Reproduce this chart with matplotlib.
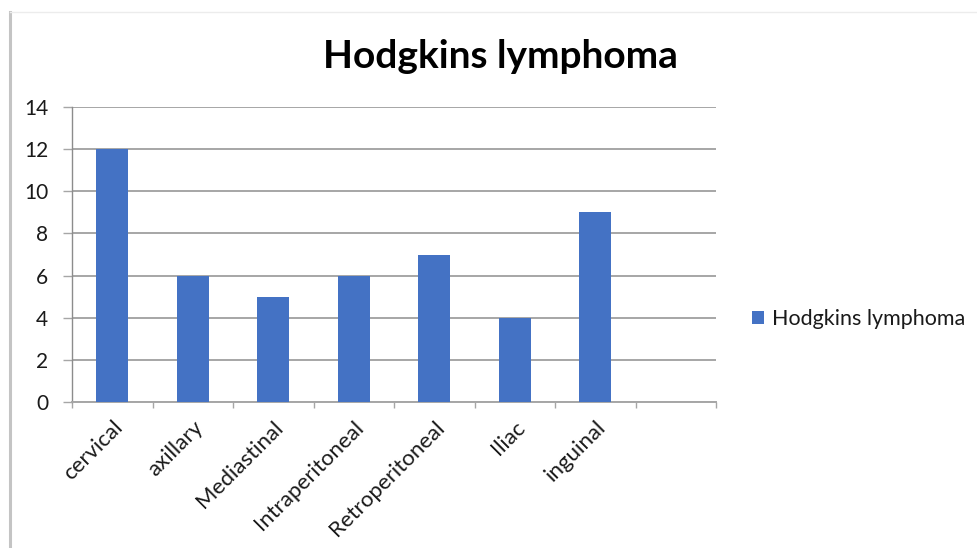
import matplotlib
matplotlib.use("Agg")
import matplotlib.pyplot as plt
from matplotlib.lines import Line2D
import numpy as np

categories = ["cervical", "axillary", "Mediastinal", "Intraperitoneal",
              "Retroperitoneal", "Iliac", "inguinal"]
values = [12, 6, 5, 6, 7, 4, 9]
series_name = "Hodgkins lymphoma"
n_slots = 8  # the category axis keeps one empty slot on the right
yticks = [0, 2, 4, 6, 8, 10, 12, 14]

plt.rcParams["font.family"] = ["Lato", "DejaVu Sans"]

W, H = 978, 548
fig = plt.figure(figsize=(W / 100, H / 100), dpi=100)
fig.patch.set_facecolor("white")

# page frame: grey rule on the left, faint rule on top
fig.add_artist(Line2D([10 / W, 10 / W], [0, 1 - 12 / H], color="#c4c4c4", lw=2.2,
                      transform=fig.transFigure))
fig.add_artist(Line2D([10 / W, 1], [1 - 12 / H, 1 - 12 / H], color="#ececec", lw=1,
                      transform=fig.transFigure))

ax = fig.add_axes([72 / W, 146 / H, (716 - 72) / W, (402 - 107) / H])
x = np.arange(len(categories))
ax.bar(x, values, width=0.4, color="#4472C4", zorder=3, label=series_name)

ax.set_xlim(-0.5, n_slots - 0.5)
ax.set_ylim(0, 14)
ax.set_yticks(yticks)
ax.set_yticklabels([str(t) for t in yticks], fontsize=15, color="#1a1a1a")
ax.yaxis.grid(True, color="#a6a6a6", lw=1.4, zorder=0)
ax.tick_params(axis="y", length=6.5, width=1, color="#a6a6a6", pad=10.5)

ax.set_xticks(x)
ax.set_xticklabels(categories, rotation=45, ha="right", va="top",
                   rotation_mode="anchor", fontsize=16, color="#1a1a1a")
ax.tick_params(axis="x", length=0, pad=11)
ax.set_xticks(np.arange(n_slots + 1) - 0.5, minor=True)
ax.tick_params(axis="x", which="minor", length=4.5, width=1, color="#a6a6a6")

for s in ["top", "right"]:
    ax.spines[s].set_visible(False)
ax.spines["left"].set_color("#8c8c8c")
ax.spines["left"].set_linewidth(1)
ax.spines["bottom"].set_color("#a6a6a6")
ax.spines["bottom"].set_linewidth(1.4)

fig.text(500 / W, 1 - 57 / H, "Hodgkins lymphoma", ha="center", va="center",
         fontsize=28, fontweight="bold", color="black")

fig.legend(loc="center left", bbox_to_anchor=(752 / W, 1 - 319 / H),
           frameon=False, fontsize=15.5, handlelength=0.55, handleheight=0.55,
           handletextpad=0.4, borderpad=0, borderaxespad=0, labelcolor="#1a1a1a")

fig.savefig("out.png", dpi=100, facecolor="white")
